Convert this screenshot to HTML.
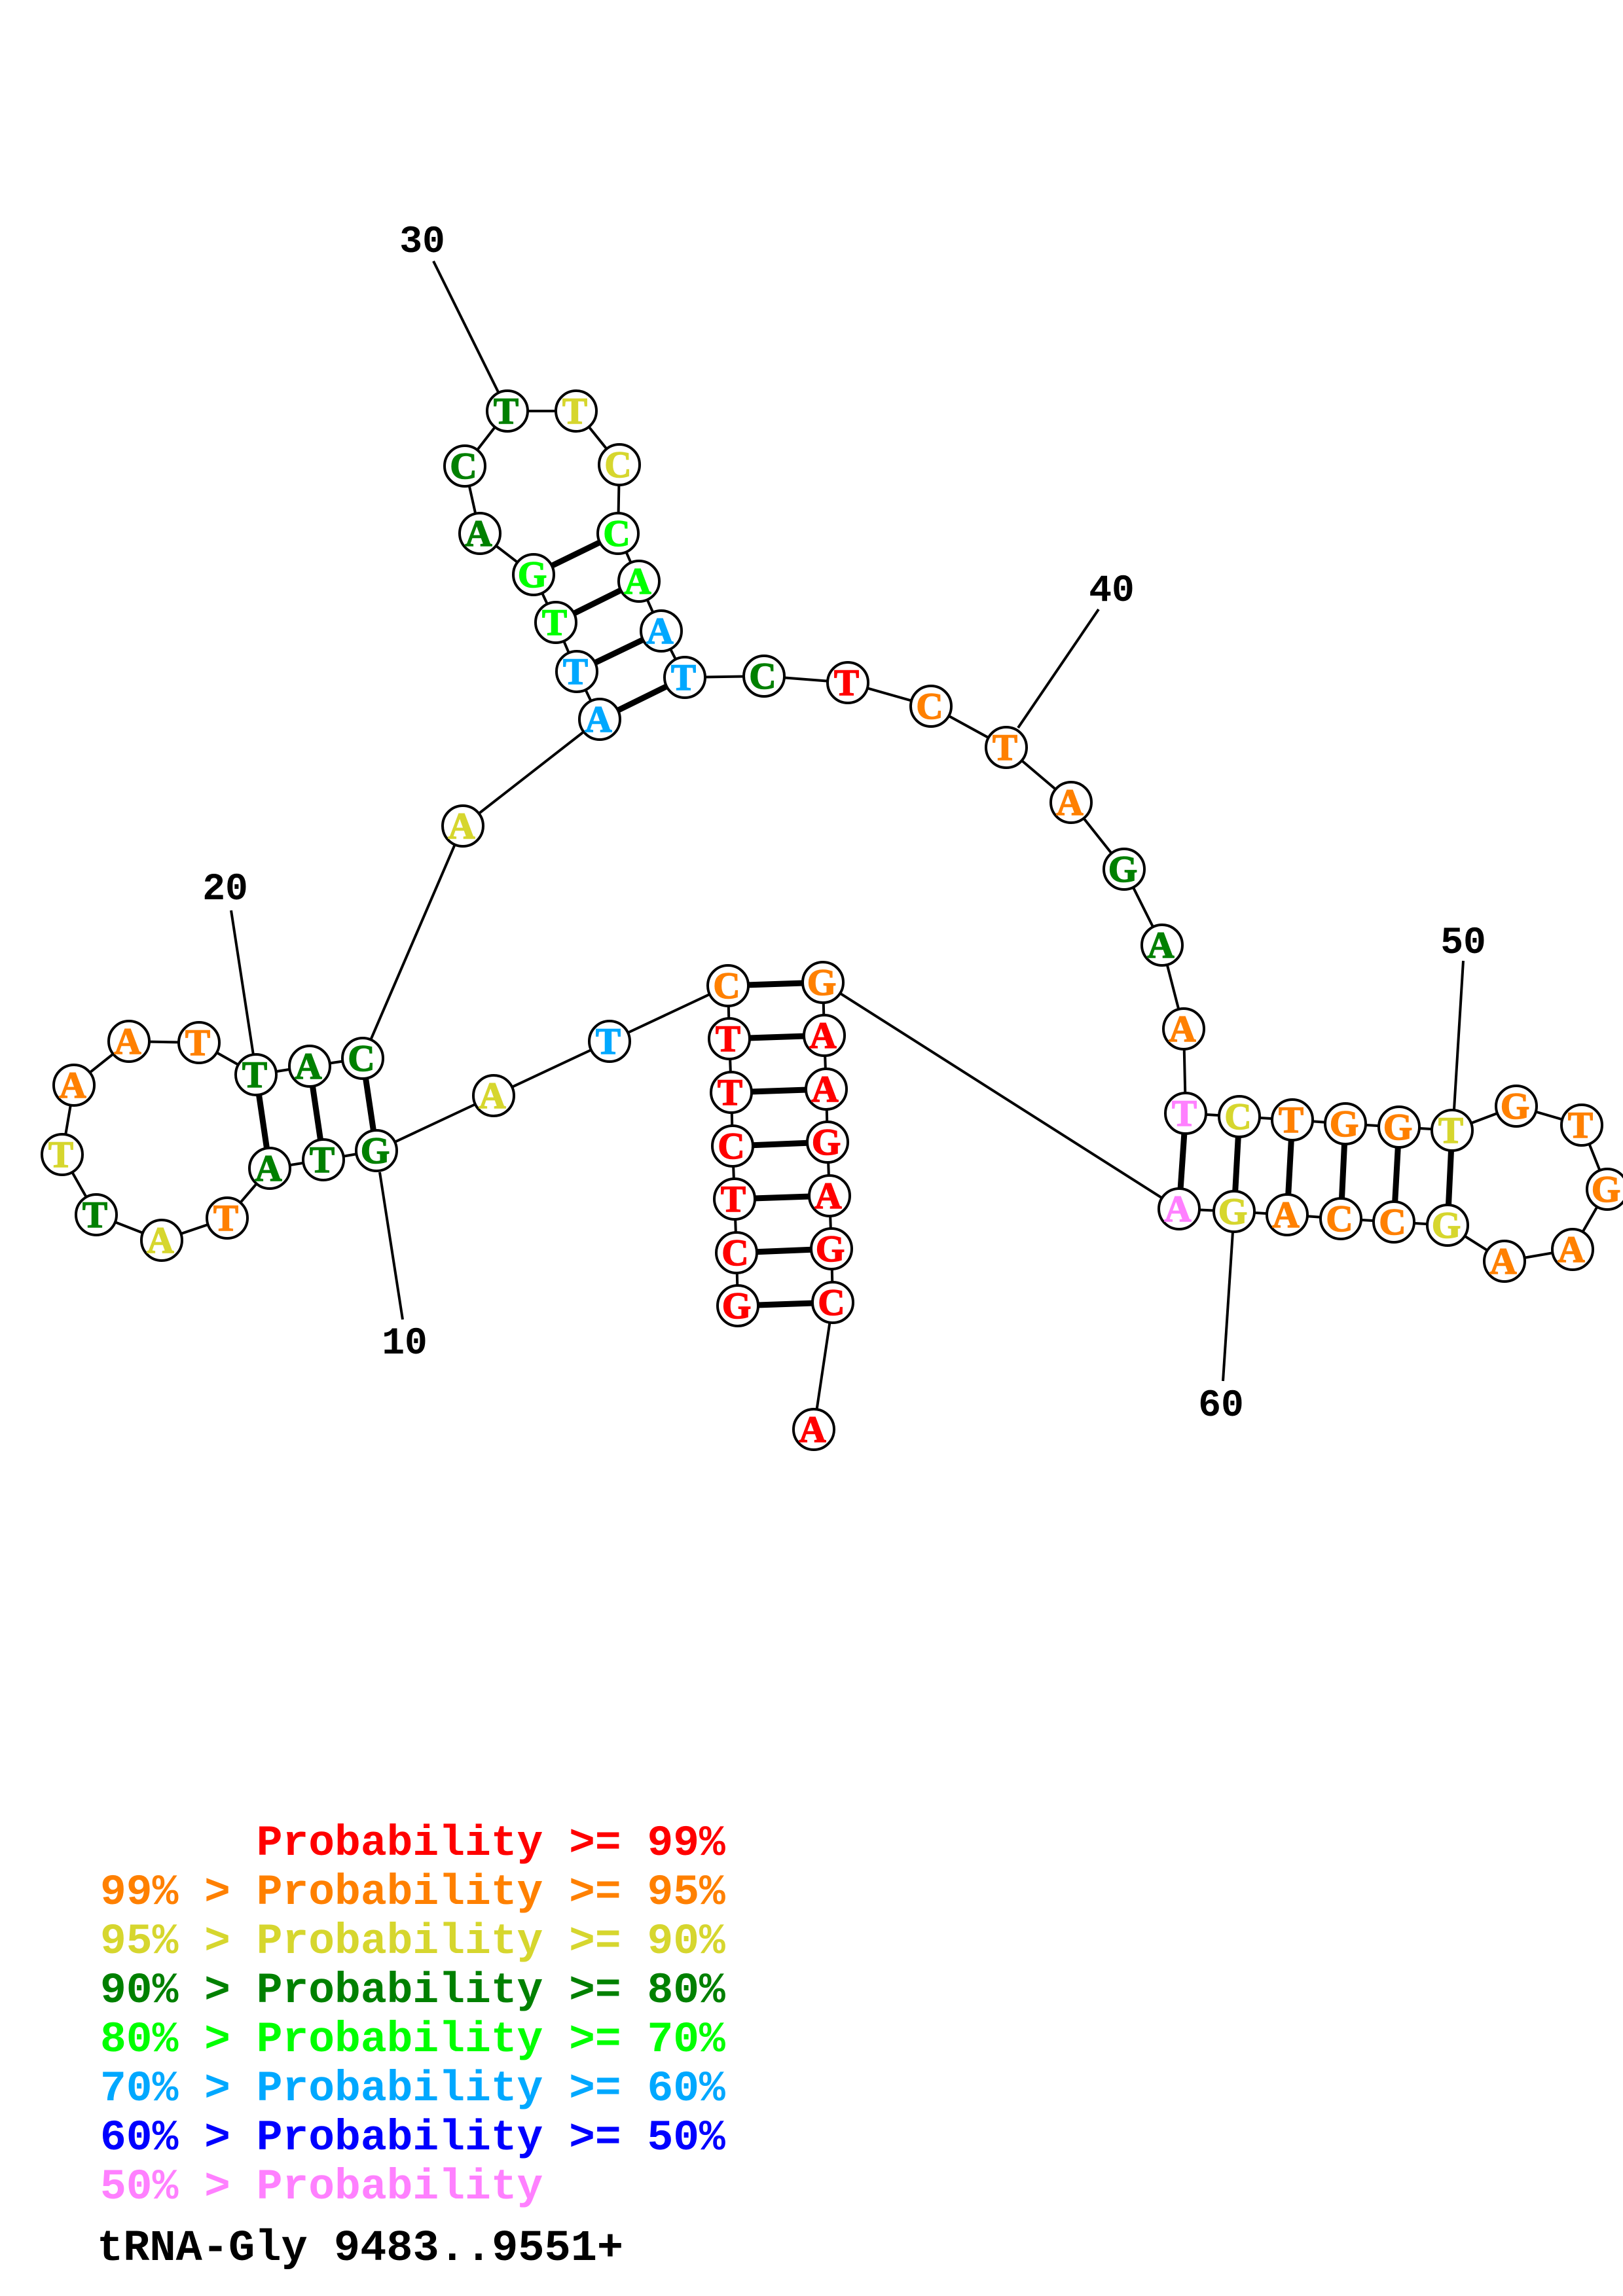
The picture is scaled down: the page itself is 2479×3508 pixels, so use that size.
<!DOCTYPE html>
<html><head><meta charset="utf-8"><style>
html,body{margin:0;padding:0;background:#fff}
svg{display:block}
.b{font:bold 57px "Liberation Serif",serif;text-anchor:middle;stroke-width:1.6}
.n{font:bold 58px "Liberation Mono",monospace;text-anchor:middle;fill:#000}
.l{font:bold 66.3px "Liberation Mono",monospace;white-space:pre}
</style></head><body>
<svg xmlns="http://www.w3.org/2000/svg" width="2479" height="3508" viewBox="0 0 2479 3508">
<rect width="2479" height="3508" fill="#fff"/>
<polyline fill="none" stroke="#000" stroke-width="4" points="1127,1995 1125,1914 1122,1832 1119,1751 1117,1669 1114,1587 1112,1506 931,1591 754,1674 575,1758 494,1772 412,1785 347,1861 247,1895 147,1856 95,1764 113,1658 197,1591 304,1593 391,1642 473,1629 554,1617 707,1262 916,1099 881,1026 849,951 815,878 733,815 710,712 775,628 880,628 946,710 944,815 976,888 1010,964 1046,1035 1167,1033 1295,1043 1422,1079 1537,1142 1636,1226 1717,1328 1775,1444 1808,1572 1811,1701 1893,1706 1974,1711 2055,1717 2137,1722 2218,1727 2316,1690 2416,1719 2455,1817 2402,1909 2298,1927 2211,1872 2129,1867 2048,1862 1966,1856 1885,1851 1801,1847 1257,1501 1259,1582 1262,1664 1264,1745 1267,1827 1270,1908 1272,1990 1243,2184"/>
<g stroke="#000" stroke-width="4">
<line x1="580" y1="1791" x2="615" y2="2016"/>
<line x1="353" y1="1391" x2="387" y2="1612"/>
<line x1="662" y1="399" x2="761" y2="599"/>
<line x1="1678" y1="931" x2="1555" y2="1112"/>
<line x1="2235" y1="1468" x2="2221" y2="1695"/>
<line x1="1883" y1="1882" x2="1868" y2="2110"/>
</g>
<g stroke="#000" stroke-width="9">
<line x1="1127" y1="1995" x2="1272" y2="1990"/>
<line x1="1125" y1="1914" x2="1270" y2="1908"/>
<line x1="1122" y1="1832" x2="1267" y2="1827"/>
<line x1="1119" y1="1751" x2="1264" y2="1745"/>
<line x1="1117" y1="1669" x2="1262" y2="1664"/>
<line x1="1114" y1="1587" x2="1259" y2="1582"/>
<line x1="1112" y1="1506" x2="1257" y2="1501"/>
<line x1="575" y1="1758" x2="554" y2="1617"/>
<line x1="494" y1="1772" x2="473" y2="1629"/>
<line x1="412" y1="1785" x2="391" y2="1642"/>
<line x1="916" y1="1099" x2="1046" y2="1035"/>
<line x1="881" y1="1026" x2="1010" y2="964"/>
<line x1="849" y1="951" x2="976" y2="888"/>
<line x1="815" y1="878" x2="944" y2="815"/>
<line x1="1811" y1="1701" x2="1801" y2="1847"/>
<line x1="1893" y1="1706" x2="1885" y2="1851"/>
<line x1="1974" y1="1711" x2="1966" y2="1856"/>
<line x1="2055" y1="1717" x2="2048" y2="1862"/>
<line x1="2137" y1="1722" x2="2129" y2="1867"/>
<line x1="2218" y1="1727" x2="2211" y2="1872"/>
</g>
<g fill="#fff" stroke="#000" stroke-width="4">
<circle cx="1127" cy="1995" r="31"/><circle cx="1125" cy="1914" r="31"/><circle cx="1122" cy="1832" r="31"/><circle cx="1119" cy="1751" r="31"/><circle cx="1117" cy="1669" r="31"/><circle cx="1114" cy="1587" r="31"/><circle cx="1112" cy="1506" r="31"/>
<circle cx="931" cy="1591" r="31"/><circle cx="754" cy="1674" r="31"/><circle cx="575" cy="1758" r="31"/><circle cx="494" cy="1772" r="31"/><circle cx="412" cy="1785" r="31"/><circle cx="347" cy="1861" r="31"/><circle cx="247" cy="1895" r="31"/><circle cx="147" cy="1856" r="31"/><circle cx="95" cy="1764" r="31"/><circle cx="113" cy="1658" r="31"/><circle cx="197" cy="1591" r="31"/><circle cx="304" cy="1593" r="31"/><circle cx="391" cy="1642" r="31"/><circle cx="473" cy="1629" r="31"/><circle cx="554" cy="1617" r="31"/>
<circle cx="707" cy="1262" r="31"/><circle cx="916" cy="1099" r="31"/><circle cx="881" cy="1026" r="31"/><circle cx="849" cy="951" r="31"/><circle cx="815" cy="878" r="31"/><circle cx="733" cy="815" r="31"/><circle cx="710" cy="712" r="31"/><circle cx="775" cy="628" r="31"/><circle cx="880" cy="628" r="31"/><circle cx="946" cy="710" r="31"/><circle cx="944" cy="815" r="31"/><circle cx="976" cy="888" r="31"/><circle cx="1010" cy="964" r="31"/><circle cx="1046" cy="1035" r="31"/>
<circle cx="1167" cy="1033" r="31"/><circle cx="1295" cy="1043" r="31"/><circle cx="1422" cy="1079" r="31"/><circle cx="1537" cy="1142" r="31"/><circle cx="1636" cy="1226" r="31"/><circle cx="1717" cy="1328" r="31"/><circle cx="1775" cy="1444" r="31"/><circle cx="1808" cy="1572" r="31"/>
<circle cx="1811" cy="1701" r="31"/><circle cx="1893" cy="1706" r="31"/><circle cx="1974" cy="1711" r="31"/><circle cx="2055" cy="1717" r="31"/><circle cx="2137" cy="1722" r="31"/><circle cx="2218" cy="1727" r="31"/><circle cx="2316" cy="1690" r="31"/><circle cx="2416" cy="1719" r="31"/><circle cx="2455" cy="1817" r="31"/><circle cx="2402" cy="1909" r="31"/><circle cx="2298" cy="1927" r="31"/><circle cx="2211" cy="1872" r="31"/><circle cx="2129" cy="1867" r="31"/><circle cx="2048" cy="1862" r="31"/><circle cx="1966" cy="1856" r="31"/><circle cx="1885" cy="1851" r="31"/><circle cx="1801" cy="1847" r="31"/>
<circle cx="1257" cy="1501" r="31"/><circle cx="1259" cy="1582" r="31"/><circle cx="1262" cy="1664" r="31"/><circle cx="1264" cy="1745" r="31"/><circle cx="1267" cy="1827" r="31"/><circle cx="1270" cy="1908" r="31"/><circle cx="1272" cy="1990" r="31"/><circle cx="1243" cy="2184" r="31"/>
</g>
<g fill="#ff0000" stroke="#ff0000">
<text class="b" x="1125" y="2014">G</text><text class="b" x="1123" y="1933">C</text><text class="b" x="1120" y="1851">T</text><text class="b" x="1117" y="1770">C</text><text class="b" x="1115" y="1688">T</text><text class="b" x="1112" y="1606">T</text>
<text class="b" x="1293" y="1062">T</text>
<text class="b" x="1257" y="1601">A</text><text class="b" x="1260" y="1683">A</text><text class="b" x="1262" y="1764">G</text><text class="b" x="1265" y="1846">A</text><text class="b" x="1268" y="1927">G</text><text class="b" x="1270" y="2009">C</text><text class="b" x="1241" y="2203">A</text>
</g>
<g fill="#ff8000" stroke="#ff8000">
<text class="b" x="1110" y="1525">C</text><text class="b" x="345" y="1880">T</text><text class="b" x="111" y="1677">A</text><text class="b" x="195" y="1610">A</text><text class="b" x="302" y="1612">T</text>
<text class="b" x="1420" y="1098">C</text><text class="b" x="1535" y="1161">T</text><text class="b" x="1634" y="1245">A</text><text class="b" x="1806" y="1591">A</text>
<text class="b" x="1972" y="1730">T</text><text class="b" x="2053" y="1736">G</text><text class="b" x="2135" y="1741">G</text><text class="b" x="2314" y="1709">G</text><text class="b" x="2414" y="1738">T</text><text class="b" x="2453" y="1836">G</text><text class="b" x="2400" y="1928">A</text><text class="b" x="2296" y="1946">A</text><text class="b" x="2127" y="1886">C</text><text class="b" x="2046" y="1881">C</text><text class="b" x="1964" y="1875">A</text>
<text class="b" x="1255" y="1520">G</text>
</g>
<g fill="#d6d62e" stroke="#d6d62e">
<text class="b" x="752" y="1693">A</text><text class="b" x="245" y="1914">A</text><text class="b" x="93" y="1783">T</text><text class="b" x="705" y="1281">A</text><text class="b" x="878" y="647">T</text><text class="b" x="944" y="729">C</text><text class="b" x="1891" y="1725">C</text><text class="b" x="2216" y="1746">T</text><text class="b" x="2209" y="1891">G</text><text class="b" x="1883" y="1870">G</text>
</g>
<g fill="#008000" stroke="#008000">
<text class="b" x="573" y="1777">G</text><text class="b" x="492" y="1791">T</text><text class="b" x="410" y="1804">A</text><text class="b" x="145" y="1875">T</text><text class="b" x="389" y="1661">T</text><text class="b" x="471" y="1648">A</text><text class="b" x="552" y="1636">C</text><text class="b" x="731" y="834">A</text><text class="b" x="708" y="731">C</text><text class="b" x="773" y="647">T</text><text class="b" x="1165" y="1052">C</text><text class="b" x="1715" y="1347">G</text><text class="b" x="1773" y="1463">A</text>
</g>
<g fill="#00ff00" stroke="#00ff00">
<text class="b" x="847" y="970">T</text><text class="b" x="813" y="897">G</text><text class="b" x="942" y="834">C</text><text class="b" x="974" y="907">A</text>
</g>
<g fill="#00a8ff" stroke="#00a8ff">
<text class="b" x="929" y="1610">T</text><text class="b" x="914" y="1118">A</text><text class="b" x="879" y="1045">T</text><text class="b" x="1008" y="983">A</text><text class="b" x="1044" y="1054">T</text>
</g>
<g fill="#ff80ff" stroke="#ff80ff">
<text class="b" x="1809" y="1720">T</text><text class="b" x="1799" y="1866">A</text>
</g>
<text class="n" x="618" y="2068">10</text>
<text class="n" x="344" y="1374">20</text>
<text class="n" x="645" y="385">30</text>
<text class="n" x="1698" y="918">40</text>
<text class="n" x="2235" y="1456">50</text>
<text class="n" x="1865" y="2163">60</text>
<text class="l" x="153" y="2834" fill="#ff0000">      Probability &gt;= 99%</text>
<text class="l" x="153" y="2909" fill="#ff8000">99% &gt; Probability &gt;= 95%</text>
<text class="l" x="153" y="2984" fill="#d6d62e">95% &gt; Probability &gt;= 90%</text>
<text class="l" x="153" y="3059" fill="#008000">90% &gt; Probability &gt;= 80%</text>
<text class="l" x="153" y="3134" fill="#00ff00">80% &gt; Probability &gt;= 70%</text>
<text class="l" x="153" y="3209" fill="#00a8ff">70% &gt; Probability &gt;= 60%</text>
<text class="l" x="153" y="3284" fill="#0000ff">60% &gt; Probability &gt;= 50%</text>
<text class="l" x="153" y="3359" fill="#ff80ff">50% &gt; Probability</text>
<text class="l" x="148" y="3453" fill="#000" style="font-size:67px">tRNA-Gly 9483..9551+</text>
</svg>
</body></html>
